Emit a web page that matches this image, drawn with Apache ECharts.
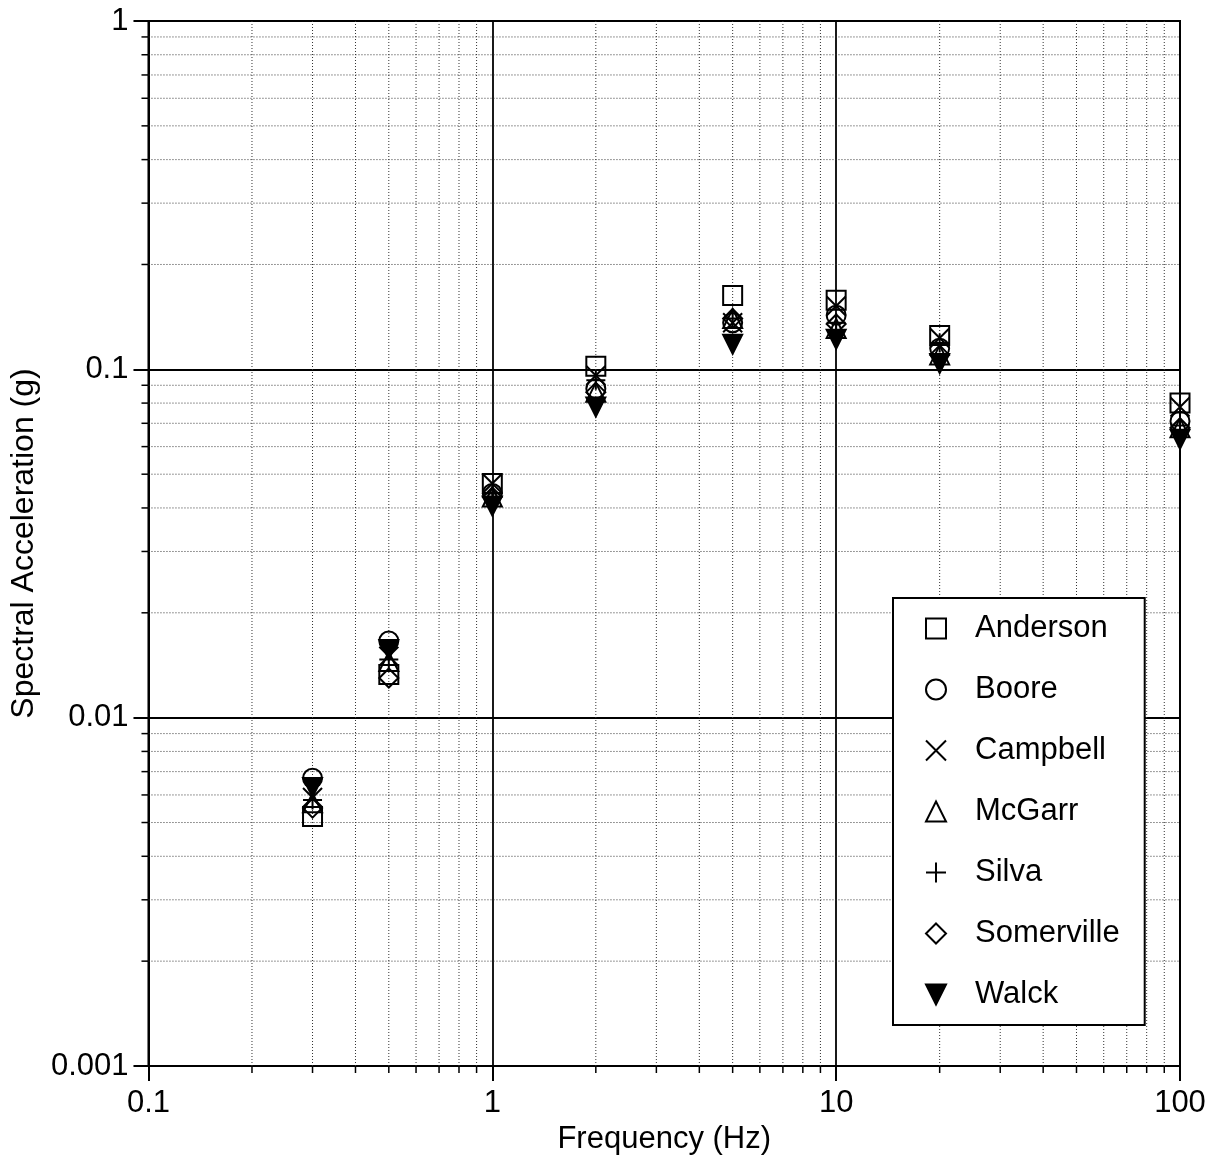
<!DOCTYPE html>
<html>
<head>
<meta charset="utf-8">
<title>Spectral Acceleration</title>
<script src="https://cdn.jsdelivr.net/npm/echarts@6/dist/echarts.min.js"></script>
<style>
html, body {
	margin: 0;
	padding: 0;
	background: #fff;
}
#chart {
	width: 1218px;
	height: 1165px;
}
</style>
</head>
<body>
<div id="chart"></div>
<script type="text/javascript">
    // frequencies (Hz)
    var freqs = [0.3, 0.5, 1, 2, 5, 10, 20, 100];

    // spectral acceleration (g) per model
    var anderson   = [0.0052, 0.0133, 0.047, 0.102, 0.163, 0.158, 0.125, 0.080];
    var boore      = [0.0067, 0.0166, 0.044, 0.088, 0.136, 0.143, 0.115, 0.071];
    var campbell   = [0.0059, 0.0150, 0.047, 0.096, 0.136, 0.152, 0.123, 0.078];
    var mcgarr     = [0.0057, 0.0145, 0.043, 0.086, 0.140, 0.131, 0.110, 0.068];
    var silva      = [0.0058, 0.0147, 0.044, 0.093, 0.140, 0.136, 0.119, 0.069];
    var somerville = [0.0055, 0.0130, 0.043, 0.086, 0.140, 0.135, 0.110, 0.068];
    var walck      = [0.0063, 0.0157, 0.0405, 0.078, 0.118, 0.122, 0.104, 0.063];

    var names = ['Anderson', 'Boore', 'Campbell', 'McGarr', 'Silva', 'Somerville', 'Walck'];

    // minor grid positions
    var minorX = [0.2, 0.3, 0.4, 0.5, 0.6, 0.7, 0.8, 0.9,
                  2, 3, 4, 5, 6, 7, 8, 9,
                  20, 30, 40, 50, 60, 70, 80, 90];
    var minorY = [0.002, 0.003, 0.004, 0.005, 0.006, 0.007, 0.008, 0.009,
                  0.02, 0.03, 0.04, 0.05, 0.06, 0.07, 0.08, 0.09,
                  0.2, 0.3, 0.4, 0.5, 0.6, 0.7, 0.8, 0.9];

    var X_MIN = 0.1, X_MAX = 100, Y_MIN = 0.001, Y_MAX = 1;

    var symbols = [
        'rect',
        'circle',
        'path://M0,0 L10,10 M10,0 L0,10',
        'triangle',
        'path://M5,0 L5,10 M0,5 L10,5',
        'diamond',
        'path://M0,0 L10,0 L5,10 Z'
    ];
    var values = [anderson, boore, campbell, mcgarr, silva, somerville, walck];

    var myChart = echarts.init(document.getElementById('chart'));

    var font = 'Liberation Sans, Arial, Helvetica, sans-serif';

    function fmt(v) {
        return String(parseFloat(Number(v).toPrecision(3)));
    }

    var series = [];

    // dotted minor grid + outward minor ticks, vertical
    series.push({
        type: 'custom',
        silent: true,
        z: 1,
        data: minorX.map(function (v) { return [v, Y_MAX]; }),
        renderItem: function (params, api) {
            var top = api.coord([api.value(0), Y_MAX]);
            var bot = api.coord([api.value(0), Y_MIN]);
            return {
                type: 'group',
                children: [{
                    type: 'line',
                    shape: {x1: top[0], y1: top[1], x2: bot[0], y2: bot[1]},
                    style: {stroke: '#333', lineWidth: 1, lineDash: [1, 2]}
                }, {
                    type: 'line',
                    shape: {x1: bot[0], y1: bot[1], x2: bot[0], y2: bot[1] + 7},
                    style: {stroke: '#000', lineWidth: 1.5}
                }]
            };
        }
    });

    // dotted minor grid + outward minor ticks, horizontal
    series.push({
        type: 'custom',
        silent: true,
        z: 1,
        data: minorY.map(function (v) { return [X_MIN, v]; }),
        renderItem: function (params, api) {
            var l = api.coord([X_MIN, api.value(1)]);
            var r = api.coord([X_MAX, api.value(1)]);
            return {
                type: 'group',
                children: [{
                    type: 'line',
                    shape: {x1: l[0], y1: l[1], x2: r[0], y2: r[1]},
                    style: {stroke: '#333', lineWidth: 1, lineDash: [1, 2]}
                }, {
                    type: 'line',
                    shape: {x1: l[0] - 7, y1: l[1], x2: l[0], y2: l[1]},
                    style: {stroke: '#000', lineWidth: 1.5}
                }]
            };
        }
    });

    for (var i = 0; i < names.length; i++) {
        var filled = (i === 6);
        series.push({
            name: names[i],
            type: 'scatter',
            z: 3,
            symbol: symbols[i],
            symbolSize: 19,
            itemStyle: {
                color: filled ? '#000' : 'rgba(0,0,0,0)',
                borderColor: '#000',
                borderWidth: 2,
                opacity: 1
            },
            data: freqs.map(function (f, j) { return [f, values[i][j]]; })
        });
    }

    option = {
        backgroundColor: '#fff',
        animation: false,
        grid: {
            left: 148,
            right: 38,
            top: 21,
            bottom: 99,
            show: true,
            borderColor: '#000',
            borderWidth: 2,
            backgroundColor: 'transparent'
        },
        legend: {
            data: names,
            orient: 'vertical',
            left: 893,
            top: 598,
            itemWidth: 20,
            itemHeight: 20,
            itemGap: 30,
            padding: [15, 25, 15, 32],
            backgroundColor: '#fff',
            borderColor: '#000',
            borderWidth: 2,
            borderRadius: 0,
            selectedMode: false,
            textStyle: {
                fontFamily: font,
                fontSize: 31,
                color: '#000',
                padding: [0, 0, 0, 24]
            }
        },
        xAxis: {
            type: 'log',
            logBase: 10,
            min: X_MIN,
            max: X_MAX,
            name: 'Frequency (Hz)',
            nameLocation: 'middle',
            nameGap: 58,
            nameTextStyle: {fontFamily: font, fontSize: 31, color: '#000'},
            axisLine: {show: true, lineStyle: {color: '#000', width: 2}},
            axisTick: {show: true, inside: false, length: 15, lineStyle: {color: '#000', width: 2}},
            axisLabel: {
                fontFamily: font, fontSize: 31, color: '#000', margin: 22,
                formatter: fmt
            },
            splitLine: {show: true, lineStyle: {color: '#000', width: 1.8}},
            minorTick: {show: false},
            minorSplitLine: {show: false}
        },
        yAxis: {
            type: 'log',
            logBase: 10,
            min: Y_MIN,
            max: Y_MAX,
            name: 'Spectral Acceleration (g)',
            nameLocation: 'middle',
            nameGap: 100,
            nameTextStyle: {fontFamily: font, fontSize: 32, color: '#000'},
            axisLine: {show: true, lineStyle: {color: '#000', width: 2}},
            axisTick: {show: true, inside: false, length: 15, lineStyle: {color: '#000', width: 2}},
            axisLabel: {
                fontFamily: font, fontSize: 31, color: '#000', margin: 20,
                formatter: fmt
            },
            splitLine: {show: true, lineStyle: {color: '#000', width: 1.8}},
            minorTick: {show: false},
            minorSplitLine: {show: false}
        },
        series: series
    };

    myChart.setOption(option);
</script>
</body>
</html>
